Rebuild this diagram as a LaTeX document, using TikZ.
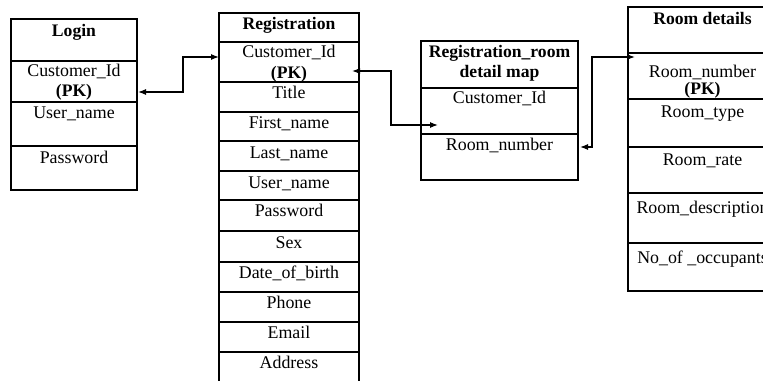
\documentclass[tikz,border=0pt]{standalone}
\usepackage{fontspec}
\setmainfont{Liberation Serif}
\usetikzlibrary{arrows.meta}

\tikzset{
  cell/.style={line width=1pt, fill=white},
  field/.style={anchor=base, inner sep=0pt, font=\fontsize{13.4}{15}\selectfont},
  head/.style={field, font=\fontsize{13.2}{15}\selectfont\bfseries},
  link/.style={line width=0.9pt, {Latex[length=6pt,width=4.5pt]}-{Latex[length=6pt,width=4.5pt]}},
}

\begin{document}
\begin{tikzpicture}[x=0.75pt, y=-0.75pt]

	\useasboundingbox (0, 0) rectangle (763, 381);
	\clip (0, 0) rectangle (763, 381);

	% Login
	\draw[cell] (11, 19) rectangle (137, 61);
	\draw[cell] (11, 61) rectangle (137, 102);
	\draw[cell] (11, 102) rectangle (137, 146);
	\draw[cell] (11, 146) rectangle (137, 190);
	\node[head] (lg-title) at (74, 37) {Login};
	\node[field] (lg-cid) at (74, 77) {Customer\_Id};
	\node[head] (lg-pk) at (74, 97) {(PK)};
	\node[field] (lg-uname) at (74, 119) {User\_name};
	\node[field] (lg-pass) at (74, 163) {Password};

	% Registration
	\draw[cell] (219, 13) rectangle (359, 42);
	\draw[cell] (219, 42) rectangle (359, 82);
	\draw[cell] (219, 82) rectangle (359, 112);
	\draw[cell] (219, 112) rectangle (359, 141);
	\draw[cell] (219, 141) rectangle (359, 171);
	\draw[cell] (219, 171) rectangle (359, 200);
	\draw[cell] (219, 200) rectangle (359, 231);
	\draw[cell] (219, 231) rectangle (359, 262);
	\draw[cell] (219, 262) rectangle (359, 292);
	\draw[cell] (219, 292) rectangle (359, 322);
	\draw[cell] (219, 322) rectangle (359, 352);
	\draw[cell] (219, 352) rectangle (359, 395);
	\node[head] (rg-title) at (289, 30) {Registration};
	\node[field] (rg-cid) at (289, 58) {Customer\_Id};
	\node[head] (rg-pk) at (289, 79) {(PK)};
	\node[field] (rg-title2) at (289, 99) {Title};
	\node[field] (rg-first) at (289, 129) {First\_name};
	\node[field] (rg-last) at (289, 159) {Last\_name};
	\node[field] (rg-uname) at (289, 188) {User\_name};
	\node[field] (rg-pass) at (289, 216) {Password};
	\node[field] (rg-sex) at (289, 248) {Sex};
	\node[field] (rg-dob) at (289, 278) {Date\_of\_birth};
	\node[field] (rg-phone) at (289, 308) {Phone};
	\node[field] (rg-email) at (289, 338) {Email};
	\node[field] (rg-addr) at (289, 368) {Address};

	% Registration_room detail map
	\draw[cell] (421, 41) rectangle (578, 88);
	\draw[cell] (421, 88) rectangle (578, 134);
	\draw[cell] (421, 134) rectangle (578, 180);
	\node[head] (mp-title) at (499.5, 58) {Registration\_room};
	\node[head] (mp-title2) at (499.5, 78) {detail map};
	\node[field] (mp-cid) at (499.5, 104) {Customer\_Id};
	\node[field] (mp-rnum) at (499.5, 151) {Room\_number};

	% Room details
	\draw[cell] (628, 7) rectangle (777, 53);
	\draw[cell] (628, 53) rectangle (777, 99);
	\draw[cell] (628, 99) rectangle (777, 147);
	\draw[cell] (628, 147) rectangle (777, 193);
	\draw[cell] (628, 193) rectangle (777, 243);
	\draw[cell] (628, 243) rectangle (777, 291);
	\node[head] (rm-title) at (702.5, 25) {Room details};
	\node[field] (rm-rnum) at (702.5, 78) {Room\_number};
	\node[head] (rm-pk) at (702.5, 95) {(PK)};
	\node[field] (rm-type) at (702.5, 118) {Room\_type};
	\node[field] (rm-rate) at (702.5, 166) {Room\_rate};
	\node[field] (rm-desc) at (702.5, 213) {Room\_description};
	\node[field] (rm-occ) at (702.5, 263) {No\_of \_occupants};

	% links
	\coordinate (lgA) at (138, 92);
	\coordinate (rgA) at (219, 57);
	\coordinate (rgB) at (352, 71);
	\coordinate (mpA) at (438, 125);
	\coordinate (mpB) at (580, 147);
	\coordinate (rmA) at (635, 57);
	\draw[link] (lgA) -- ++(45, 0) |- (rgA);
	\draw[link] (rgB) -- ++(39, 0) |- (mpA);
	\draw[link] (mpB) -- ++(12, 0) |- (rmA);

\end{tikzpicture}
\end{document}
